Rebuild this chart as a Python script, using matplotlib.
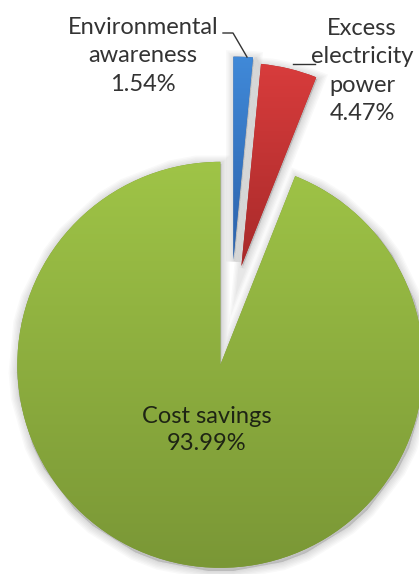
import matplotlib.pyplot as plt
import numpy as np
from matplotlib.colors import LinearSegmentedColormap

# Shares of respondents by main motivation (percent)
reasons = ["Environmental\nawareness", "Excess\nelectricity\npower", "Cost savings"]
shares = [1.54, 4.47, 93.99]

# top / bottom colours of the vertical gradient on each slice
top_colors = ["#4089d8", "#d83c3c", "#9fc447"]
bottom_colors = ["#2c62ab", "#a82a2a", "#7a9736"]
explode = [0.244, 0.218, 0.28]  # fraction of radius

W, H = 419, 574
fig = plt.figure(figsize=(W / 100, H / 100), dpi=100)
ax = fig.add_axes([0, 0, 1, 1])
ax.axis("off")

center = (231.0, 265.0)
radius = 203

# pie() offsets slices by explode in data units, so scale by the radius
wedges, _ = ax.pie(shares, explode=[e * radius for e in explode], startangle=90,
                   counterclock=False, radius=radius, center=center,
                   colors=bottom_colors, wedgeprops=dict(linewidth=0))

# soft shadow behind the slices
for w in wedges:
    for k in range(6):
        sh = plt.Polygon(w.get_path().vertices - np.array([-1.0, 2.0]),
                         closed=True, facecolor="black", edgecolor="black",
                         linewidth=2 + 2 * k, alpha=0.025, zorder=0.5)
        ax.add_patch(sh)

# gradient fill clipped to each wedge
for w, c0, c1 in zip(wedges, top_colors, bottom_colors):
    verts = w.get_path().vertices
    x0, x1 = verts[:, 0].min(), verts[:, 0].max()
    y0, y1 = verts[:, 1].min(), verts[:, 1].max()
    cmap = LinearSegmentedColormap.from_list("g", [c1, c0])
    grad = np.linspace(0, 1, 256).reshape(-1, 1)
    im = ax.imshow(grad, cmap=cmap, extent=(x0, x1, y0, y1), origin="lower",
                   aspect="auto", zorder=2, interpolation="bilinear")
    im.set_clip_path(w)
    w.set_zorder(1)

font = dict(family="Lato", fontsize=17, color="#333333", ha="center",
            va="center", linespacing=1.42)

labels = [f"{r}\n{s:.2f}%" for r, s in zip(reasons, shares)]
ax.text(143, H - 56, labels[0], zorder=5, **font)
ax.text(362, H - 71, labels[1], zorder=5, **font)
ax.text(207, H - 430, labels[2], zorder=5, **dict(font, color="#1e2414",
                                                     linespacing=1.35))

# leader lines
ax.plot([223, 233, 247], [H - 33, H - 33, H - 57], color="#333333", lw=1, zorder=5)
ax.plot([293, 315], [H - 64, H - 64], color="#333333", lw=1, zorder=5)

ax.set_xlim(0, W)
ax.set_ylim(0, H)
fig.savefig("out.png", dpi=100)
